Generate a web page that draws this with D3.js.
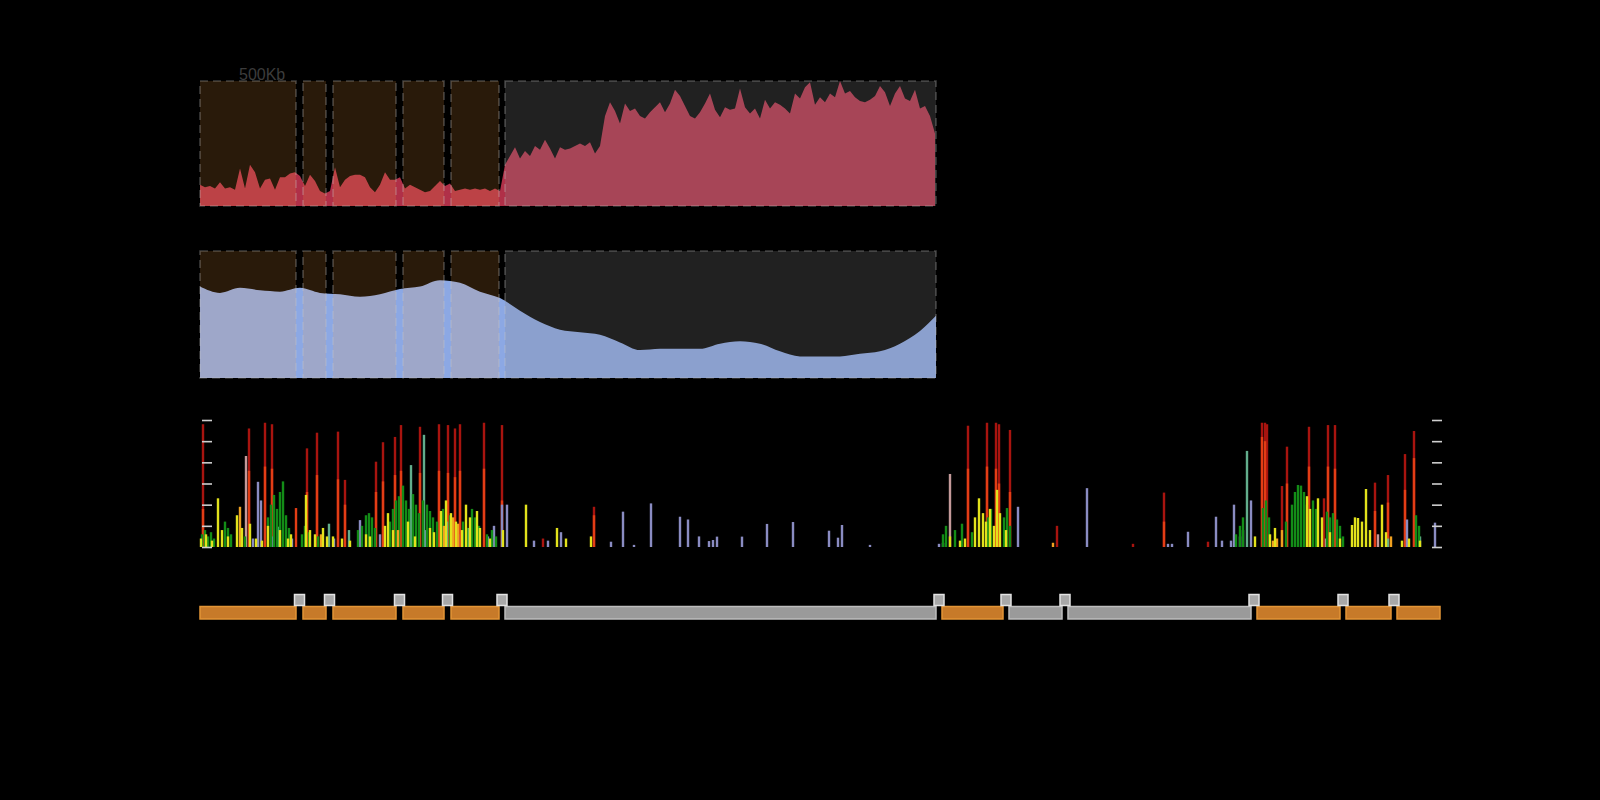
<!DOCTYPE html>
<html>
<head>
<meta charset="utf-8">
<script src="https://cdn.jsdelivr.net/npm/d3@7"></script>
<style>
  body { margin: 0; background: #000; }
  svg { display: block; }
</style>
</head>
<body>
<svg id="chart" width="1600" height="800"></svg>
<script>
// ---- data (positions in Kb) ----
const segStart = [0, 515, 665, 1015, 1255, 1525, 3710, 4045, 4340, 5285, 5730, 5985];
const segEnd   = [480, 630, 980, 1220, 1495, 3680, 4015, 4310, 5255, 5700, 5955, 6200];
const segKind  = ['A', 'A', 'A', 'A', 'A', 'B', 'A', 'B', 'B', 'A', 'A', 'A'];

// coverage track, one value every 25 Kb from 0
const covStep = 25;
const coverage = [
  17, 15, 16, 14, 19, 14, 15, 13, 30, 14, 33, 27, 14, 21, 22, 13, 23, 23, 26, 27,
  24, 16, 25, 20, 12, 10, 12, 31, 15, 21, 24, 25, 25, 23, 15, 11, 17, 27, 21, 21,
  23, 14, 17, 15, 13, 11, 12, 16, 20, 16, 18, 12, 13, 14, 13, 14, 13, 14, 12, 14,
  12, 33, 40, 47, 38, 44, 40, 48, 45, 53, 46, 38, 47, 45, 46, 48, 50, 48, 51, 42,
  48, 72, 83, 76, 66, 82, 76, 78, 72, 70, 75, 79, 83, 75, 82, 93, 88, 80, 72, 70,
  75, 82, 90, 77, 71, 79, 77, 78, 94, 79, 74, 78, 70, 85, 78, 83, 81, 78, 74, 90,
  86, 95, 99, 81, 87, 83, 90, 87, 100, 90, 92, 87, 84, 83, 85, 88, 96, 91, 80, 90,
  96, 86, 84, 93, 78, 80, 72, 58
];

// smoothed depth track
const depthPos = [0, 100, 200, 300, 400, 500, 600, 700, 800, 900, 1000, 1100, 1200, 1300,
  1400, 1500, 1600, 1700, 1800, 1900, 2000, 2100, 2200, 2300, 2400, 2500, 2600, 2700,
  2800, 2900, 3000, 3100, 3200, 3300, 3400, 3500, 3600, 3680];
const depthVal = [72, 67, 71, 69, 68, 71, 67, 66, 64, 66, 70, 72, 77, 75, 68, 63, 53, 44,
  38, 36, 34, 28, 22, 23, 23, 23, 27, 29, 27, 21, 17, 17, 17, 19, 21, 27, 37, 49];

// variant bars: [position Kb, value]
const darkRed = [[15,58],[245,56],[325,58.7],[360,58],[535,46.6],[585,54],[690,54.5],[725,31.7],
  [880,40.3],[915,49.5],[975,52],[1005,57.6],[1100,56.8],[1195,58],[1240,57.6],[1275,56],
  [1300,58],[1420,58.7],[1510,57.6],[1715,4],[1970,19],[3840,57.3],[3935,58.7],[3980,58.7],
  [3995,58],[4050,55.3],[4285,10],[4665,1.5],[4820,25.7],[5040,2.5],[5310,58.7],[5325,58.7],
  [5335,58],[5410,28.8],[5435,47.4],[5545,56.8],[5620,23],[5640,57.6],[5675,57.6],[5875,30.4],
  [5940,34],[6025,43.9],[6070,54.8]];
const orangeRed = [[15,18],[245,36],[325,38],[360,37],[480,18.4],[535,26],[585,34],[690,32],
  [725,20],[880,26],[915,31],[975,34],[1005,36],[1100,35],[1195,36],[1240,35],[1275,33],
  [1300,36],[1420,37],[1510,22],[1970,15],[3840,37],[3935,38],[3980,37],[3995,30],[4050,26],
  [4820,12],[5310,52],[5325,50],[5435,30],[5545,38],[5640,38],[5675,37],[5875,17],[5940,21],
  [6025,27],[6070,42]];
const pinkGrey = [[230,43],[3750,34.5],[5630,4],[5890,6]];
const lavender = [[265,4],[290,30.8],[305,22],[360,5],[460,4],[670,4],[800,12.7],[900,6],
  [1125,8],[1290,6],[1440,5],[1470,10],[1510,20],[1535,20],[1670,3],[1740,3],[1805,7],
  [2055,2.5],[2115,16.7],[2170,1],[2255,20.6],[2400,14.3],[2440,13],[2495,5],[2545,2.8],
  [2565,3.3],[2585,4.9],[2710,4.9],[2835,10.9],[2965,11.8],[3145,7.7],[3190,4.4],[3210,10.4],
  [3350,1],[3695,1.5],[3715,2],[4090,19],[4435,27.8],[4840,1.5],[4860,1.5],[4940,7.2],
  [5080,14.3],[5110,3],[5155,3],[5170,20],[5200,5],[5215,8],[5255,22],[6035,13],[6175,11.5]];
const teal = [[390,9.6],[645,11],[745,8],[1055,38.7],[1120,53],[1235,12],[1340,9],[5235,45.4],
  [5940,4],[6100,5]];
const green = [[10,6],[25,8],[40,5],[55,7],[70,4],[125,12],[140,9],[155,6],[225,5],[340,14],
  [355,20],[370,24.6],[385,18],[400,26],[415,31],[430,15],[445,9],[510,6],[525,10],[545,7],
  [590,5],[610,4],[790,8],[810,10],[830,15],[845,16],[860,14],[875,9],[950,12],[965,18],
  [980,22],[995,24],[1015,29],[1030,22],[1045,18],[1065,25],[1080,20],[1095,16],[1115,22],
  [1135,20],[1150,17],[1165,14],[1185,12],[1215,18],[1250,15],[1315,12],[1335,9],[1360,18],
  [1375,14],[1395,10],[1435,6],[1460,8],[1480,5],[3715,6],[3730,10],[3775,8],[3810,11],
  [3860,7],[3940,14],[3955,18],[4020,14],[4035,18.4],[4050,10],[5180,6],[5200,10],[5215,14],
  [5315,18.4],[5330,22],[5345,14],[5430,12],[5460,20],[5475,26],[5490,29.3],[5505,29],
  [5520,26],[5535,20],[5565,22],[5580,18],[5635,16.7],[5650,14],[5665,16],[5685,13],
  [5700,10],[5715,5],[6080,15],[6095,10]];
const orange = [[200,19],[605,6],[990,8],[1220,10],[1265,14],[1290,11],[4265,2],[5365,3],
  [5385,4],[5410,8],[5955,5]];
const yellow = [[5,4],[30,6],[60,3],[90,23],[110,8],[140,5],[185,15],[210,9],[250,11],[280,4],
  [310,3],[340,10],[400,8],[440,4],[455,6],[530,24.6],[550,8],[575,6],[615,9],[635,5],[665,5],
  [710,4],[750,3],[830,6],[850,5],[925,10],[940,16],[965,8],[1040,12],[1075,5],[1150,9],
  [1170,7],[1205,17],[1230,22],[1255,16],[1280,12],[1310,8],[1330,20],[1350,14],[1385,17],
  [1400,9],[1450,4],[1515,8],[1630,20],[1785,9],[1830,4],[1955,5],[3750,5],[3800,3],[3825,4],
  [3875,14],[3895,23],[3915,16],[3930,12],[3950,18],[3970,10],[3985,27],[4000,16],[4030,8],
  [5275,5],[5350,6],[5375,9],[5535,24],[5550,18],[5590,23],[5610,14],[5650,7],[5700,4],
  [5760,10.4],[5775,14],[5790,13.7],[5810,12],[5830,27.4],[5850,8],[5910,20],[5930,7],
  [6010,3],[6045,4],[6100,3]];

const barLayers = [
  { data: darkRed, color: '#a8140f' },
  { data: orangeRed, color: '#e33d15' },
  { data: pinkGrey, color: '#c49a9a' },
  { data: lavender, color: '#8a8cc2' },
  { data: teal, color: '#62ad8c' },
  { data: green, color: '#138c17' },
  { data: orange, color: '#f0a020' },
  { data: yellow, color: '#e2e21c' }
];
const barTicks = [0, 10, 20, 30, 40, 50, 60];

// ---- drawing ----
const svg = d3.select('#chart');
const x = d3.scaleLinear().domain([0, 6200]).range([200, 1440]);

// scale label (sits just above the first panel)
svg.append('text')
  .attr('x', 239)
  .attr('y', 80)
  .attr('fill', '#3c3c3c')
  .style('font-family', 'Liberation Sans, Arial, sans-serif')
  .style('font-size', '16px')
  .text('500Kb');

const panelSegs = segStart.map((s, i) => ({ s, e: segEnd[i], kind: segKind[i] }))
  .filter(d => d.e <= 3680);

function drawPanel(top, height, pathD, fill) {
  const g = svg.append('g');
  g.append('path').attr('d', pathD).attr('fill', fill);

  // segment tint
  g.selectAll('rect.tint')
    .data(panelSegs)
    .enter().append('rect')
    .attr('class', 'tint')
    .attr('x', d => x(d.s))
    .attr('y', top)
    .attr('width', d => x(d.e) - x(d.s))
    .attr('height', height)
    .attr('fill', d => d.kind === 'A' ? 'rgb(255,160,60)' : 'rgb(140,140,140)')
    .attr('fill-opacity', d => d.kind === 'A' ? 0.16 : 0.24);

  // dashed outlines
  g.selectAll('rect.outline')
    .data(panelSegs)
    .enter().append('rect')
    .attr('class', 'outline')
    .attr('x', d => x(d.s))
    .attr('y', top)
    .attr('width', d => x(d.e) - x(d.s))
    .attr('height', height)
    .attr('fill', 'none')
    .attr('stroke', 'rgba(200,200,200,0.3)')
    .attr('stroke-width', 1.6)
    .attr('stroke-dasharray', '8,5');
}

// panel 1: coverage
const p1Top = 81, p1H = 125;
const y1 = d3.scaleLinear().domain([0, 100]).range([p1Top + p1H, p1Top]);
const area1 = d3.area()
  .x((d, i) => x(i * covStep))
  .y0(p1Top + p1H)
  .y1(d => y1(d));
drawPanel(p1Top, p1H, area1(coverage), 'rgb(176,48,72)');

// panel 2: depth
const p2Top = 251, p2H = 127;
const y2 = d3.scaleLinear().domain([0, 100]).range([p2Top + p2H, p2Top]);
const area2 = d3.area()
  .curve(d3.curveMonotoneX)
  .x((d, i) => x(depthPos[i]))
  .y0(p2Top + p2H)
  .y1(d => y2(d));
drawPanel(p2Top, p2H, area2(depthVal), 'rgb(140,168,228)');

// variant bars
const yb = d3.scaleLinear().domain([0, 60]).range([547, 420]);
const bw = x(12) - x(0);
barLayers.forEach(layer => {
  svg.append('g').selectAll('rect')
    .data(layer.data)
    .enter().append('rect')
    .attr('x', d => x(d[0]) - bw / 2)
    .attr('y', d => yb(d[1]))
    .attr('width', bw)
    .attr('height', d => yb(0) - yb(d[1]))
    .attr('fill', layer.color);
});

const leftAxis = svg.append('g')
  .attr('transform', 'translate(202,0)')
  .call(d3.axisRight(yb).tickValues(barTicks).tickSize(10).tickFormat(''));
const rightAxis = svg.append('g')
  .attr('transform', 'translate(1442,0)')
  .call(d3.axisLeft(yb).tickValues(barTicks).tickSize(10).tickFormat(''));
[leftAxis, rightAxis].forEach(a => {
  a.select('.domain').remove();
  a.selectAll('line').attr('stroke', '#cfcfcf').attr('stroke-width', 1.6);
});

// segment track
const track = svg.append('g');
track.selectAll('rect.seg')
  .data(segStart.map((s, i) => ({ s, e: segEnd[i], kind: segKind[i] })))
  .enter().append('rect')
  .attr('class', 'seg')
  .attr('x', d => x(d.s))
  .attr('y', 606.5)
  .attr('width', d => x(d.e) - x(d.s))
  .attr('height', 12.5)
  .attr('fill', d => d.kind === 'A' ? '#c77a29' : '#9a9a9a')
  .attr('stroke', d => d.kind === 'A' ? '#e39536' : '#bdbdbd')
  .attr('stroke-width', 1.5);

const joins = segEnd.slice(0, -1).map((e, i) => (e + segStart[i + 1]) / 2);
track.selectAll('rect.join')
  .data(joins)
  .enter().append('rect')
  .attr('class', 'join')
  .attr('x', d => x(d) - 5)
  .attr('y', 594.5)
  .attr('width', 10)
  .attr('height', 11)
  .attr('fill', '#a8a8a8')
  .attr('stroke', '#e2e2e2')
  .attr('stroke-width', 1.5);
</script>
</body>
</html>
